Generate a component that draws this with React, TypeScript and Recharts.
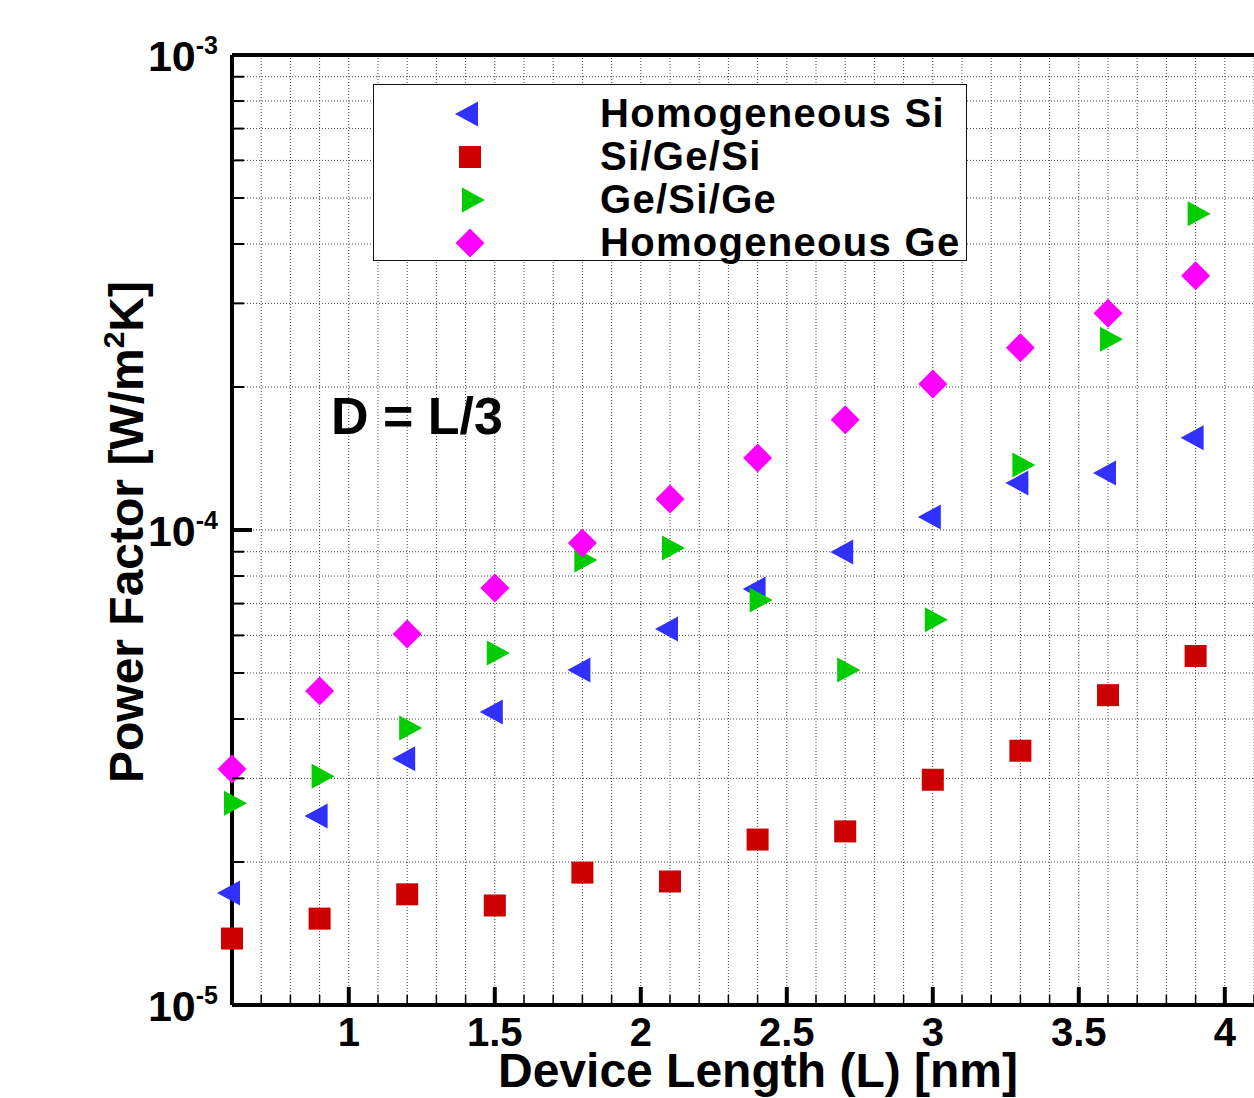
import { CartesianGrid, Label, Legend, ReferenceLine, Scatter, ScatterChart, XAxis, YAxis } from 'recharts'

// ── Data (power factor in W/m^2K vs device length in nm) ──

const lengths = [0.6, 0.9, 1.2, 1.5, 1.8, 2.1, 2.4, 2.7, 3.0, 3.3, 3.6, 3.9]

const homoSi = [1.72e-5, 2.5e-5, 3.3e-5, 4.14e-5, 5.07e-5, 6.19e-5, 7.51e-5, 8.99e-5, 1.065e-4, 1.256e-4, 1.318e-4, 1.563e-4]
const siGeSi = [1.38e-5, 1.52e-5, 1.71e-5, 1.62e-5, 1.9e-5, 1.82e-5, 2.23e-5, 2.32e-5, 2.98e-5, 3.43e-5, 4.49e-5, 5.43e-5]
const geSiGe = [2.66e-5, 3.03e-5, 3.83e-5, 5.51e-5, 8.65e-5, 9.16e-5, 7.12e-5, 5.07e-5, 6.47e-5, 1.37e-4, 2.52e-4, 4.63e-4]
const homoGe = [3.14e-5, 4.58e-5, 6.04e-5, 7.55e-5, 9.39e-5, 1.162e-4, 1.418e-4, 1.706e-4, 2.03e-4, 2.42e-4, 2.86e-4, 3.43e-4]

const xTicks = [
  0.6, 0.7, 0.8, 0.9, 1.0, 1.1, 1.2, 1.3, 1.4, 1.5, 1.6, 1.7, 1.8, 1.9, 2.0, 2.1, 2.2, 2.3,
  2.4, 2.5, 2.6, 2.7, 2.8, 2.9, 3.0, 3.1, 3.2, 3.3, 3.4, 3.5, 3.6, 3.7, 3.8, 3.9, 4.0, 4.1,
]
const xLabels = [1, 1.5, 2, 2.5, 3, 3.5, 4]

const yTicks = [
  1e-5, 2e-5, 3e-5, 4e-5, 5e-5, 6e-5, 7e-5, 8e-5, 9e-5,
  1e-4, 2e-4, 3e-4, 4e-4, 5e-4, 6e-4, 7e-4, 8e-4, 9e-4, 1e-3,
]
const yDecades = [1e-5, 1e-4, 1e-3]

const FONT = '"Liberation Sans", Arial, Helvetica, sans-serif'

const COLORS = {
  homoSi: '#3030ff',
  siGeSi: '#cc0000',
  geSiGe: '#00cc00',
  homoGe: '#ff00ff',
  grid: '#444444',
}

const toRows = (values: number[]) => lengths.map((L, i) => ({ L, v: values[i] }))

// ── Marker shapes ──

type Mark = 'left' | 'square' | 'right' | 'diamond'

function Marker({ kind, cx, cy, fill }: { kind: Mark; cx: number; cy: number; fill: string }) {
  if (kind === 'left') {
    return <polygon fill={fill} points={`${cx - 15},${cy} ${cx + 8},${cy - 12.5} ${cx + 8},${cy + 12.5}`} />
  }
  if (kind === 'right') {
    return <polygon fill={fill} points={`${cx + 15},${cy} ${cx - 8},${cy - 12.5} ${cx - 8},${cy + 12.5}`} />
  }
  if (kind === 'square') {
    return <rect fill={fill} height={22} width={22} x={cx - 11} y={cy - 11} />
  }
  return <polygon fill={fill} points={`${cx},${cy - 14.5} ${cx + 14.5},${cy} ${cx},${cy + 14.5} ${cx - 14.5},${cy}`} />
}

const SERIES: { name: string; values: number[]; kind: Mark; color: string }[] = [
  { name: 'Homogeneous Si', values: homoSi, kind: 'left', color: COLORS.homoSi },
  { name: 'Si/Ge/Si', values: siGeSi, kind: 'square', color: COLORS.siGeSi },
  { name: 'Ge/Si/Ge', values: geSiGe, kind: 'right', color: COLORS.geSiGe },
  { name: 'Homogeneous Ge', values: homoGe, kind: 'diamond', color: COLORS.homoGe },
]

// ── Axis ticks (drawn inward, Tecplot style) ──

const near = (a: number, b: number) => Math.abs(a - b) <= Math.abs(b) * 1e-6 + 1e-9

function XTick({ x, y, payload }: any) {
  const v = payload.value as number
  const major = xLabels.some((l) => near(v, l))
  return (
    <g>
      <line stroke="#000" strokeWidth={major ? 4 : 1.5} x1={x} x2={x} y1={y} y2={y - (major ? 18 : 10)} />
      {major && (
        <text fill="#000" fontFamily={FONT} fontSize={40} fontWeight="bold" textAnchor="middle" x={x} y={y + 41}>
          {v}
        </text>
      )}
    </g>
  )
}

function YTick({ x, y, payload }: any) {
  const v = payload.value as number
  const major = yDecades.some((d) => near(v, d))
  const exp = Math.round(Math.log10(v))
  return (
    <g>
      <line stroke="#000" strokeWidth={major ? 4 : 2} x1={x} x2={x + (major ? 20 : 12)} y1={y} y2={y} />
      {major && (
        <text fill="#000" fontFamily={FONT} fontSize={43} fontWeight="bold" textAnchor="end" x={x - 14} y={y + 16}>
          10
          <tspan dy={-17} fontSize={25}>
            {exp}
          </tspan>
        </text>
      )}
    </g>
  )
}

// ── Legend box ──

function LegendBox() {
  return (
    <div
      style={{
        width: 594,
        height: 177,
        boxSizing: 'border-box',
        border: '1.5px solid #111',
        background: '#fff',
      }}
    >
      <svg height={174} style={{ overflow: 'visible' }} width={591}>
        {SERIES.map((s, i) => (
          <g key={s.name}>
            <Marker cx={96} cy={29 + i * 43} fill={s.color} kind={s.kind} />
            <text
              fill="#000"
              fontFamily={FONT}
              fontSize={40}
              fontWeight="bold"
              letterSpacing={1.3}
              x={226}
              y={42 + i * 43}
            >
              {s.name}
            </text>
          </g>
        ))}
      </svg>
    </div>
  )
}

export default function App() {
  return (
    <div style={{ position: 'absolute', left: 0, top: 0, width: 1254, height: 1098, background: '#fff' }}>
      <ScatterChart height={1098} margin={{ top: 55, right: 0, bottom: 0, left: 0 }} width={1254}>
        <CartesianGrid stroke={COLORS.grid} strokeDasharray="1 2" strokeWidth={1} />
        <XAxis
          axisLine={{ stroke: '#000', strokeWidth: 4 }}
          dataKey="L"
          domain={[0.6, 4.1]}
          height={93}
          interval={0}
          tick={<XTick />}
          tickLine={false}
          tickMargin={0}
          tickSize={0}
          ticks={xTicks}
          type="number"
        >
          <Label
            content={() => (
              <text fill="#000" fontFamily={FONT} fontSize={48} fontWeight="bold" textAnchor="middle" x={758} y={1087}>
                Device Length (L) [nm]
              </text>
            )}
          />
        </XAxis>
        <YAxis
          axisLine={{ stroke: '#000', strokeWidth: 4 }}
          dataKey="v"
          domain={[1e-5, 1e-3]}
          interval={0}
          scale="log"
          tick={<YTick />}
          tickLine={false}
          tickMargin={0}
          tickSize={0}
          ticks={yTicks}
          type="number"
          width={232}
        >
          <Label
            content={({ viewBox }: any) => {
              const cy = viewBox ? viewBox.y + viewBox.height / 2 : 530
              return (
                <text
                  fill="#000"
                  fontFamily={FONT}
                  fontSize={48}
                  fontWeight="bold"
                  textAnchor="middle"
                  transform={`translate(143, ${cy + 2}) rotate(-90)`}
                >
                  Power Factor [W/m
                  <tspan dy={-19} fontSize={30}>
                    2
                  </tspan>
                  <tspan dy={19}>K]</tspan>
                </text>
              )
            }}
          />
        </YAxis>
        <ReferenceLine stroke="#000" strokeWidth={4} y={yDecades[yDecades.length - 1]} />
        {SERIES.map((s) => (
          <Scatter
            data={toRows(s.values)}
            fill={s.color}
            isAnimationActive={false}
            key={s.name}
            name={s.name}
            shape={(p: any) => <Marker cx={p.cx} cy={p.cy} fill={s.color} kind={s.kind} />}
          />
        ))}
        <Legend
          align="center"
          content={() => <LegendBox />}
          layout="vertical"
          verticalAlign="middle"
          wrapperStyle={{ position: 'absolute', left: 373, top: 84, width: 594, height: 177 }}
        />
      </ScatterChart>
      <div
        style={{
          position: 'absolute',
          left: 331,
          top: 386,
          fontFamily: FONT,
          fontSize: 52,
          fontWeight: 'bold',
          lineHeight: '60px',
          color: '#000',
          whiteSpace: 'nowrap',
        }}
      >
        D = L/3
      </div>
    </div>
  )
}
